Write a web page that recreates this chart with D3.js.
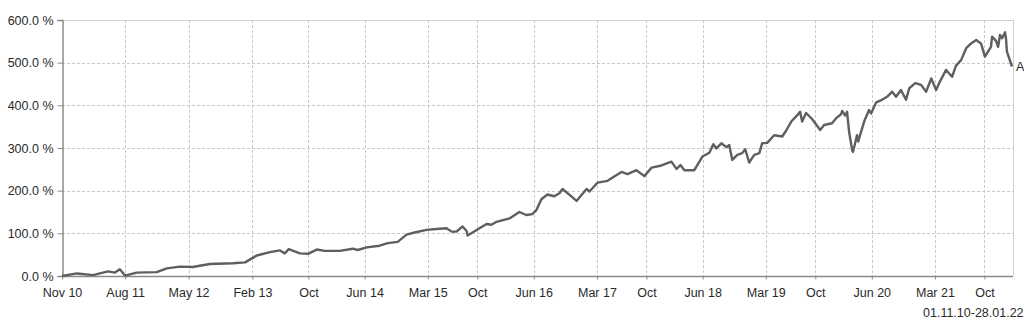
<!DOCTYPE html>
<html><head><meta charset="utf-8">
<script src="https://cdn.jsdelivr.net/npm/d3@7"></script>
<style>
html,body{margin:0;padding:0;background:#fff;}
svg{display:block;font-family:"Liberation Sans",Arial,sans-serif;}
</style></head>
<body>
<svg id="chart" width="1024" height="321"></svg>
<script>
const dates = ["2010-11-01","2011-01-05","2011-03-15","2011-05-19","2011-06-18","2011-07-09","2011-07-31","2011-09-20","2011-12-15","2012-01-28","2012-03-24","2012-05-19","2012-08-01","2012-11-09","2012-12-31","2013-02-20","2013-04-18","2013-05-31","2013-06-21","2013-07-08","2013-08-25","2013-09-29","2013-11-06","2013-12-11","2014-02-13","2014-04-11","2014-05-02","2014-06-10","2014-08-05","2014-09-09","2014-10-22","2014-11-29","2015-01-03","2015-02-24","2015-04-08","2015-05-21","2015-06-12","2015-07-03","2015-07-29","2015-08-15","2015-08-20","2015-09-28","2015-11-10","2015-12-01","2015-12-23","2016-02-17","2016-03-31","2016-04-30","2016-05-26","2016-06-13","2016-07-04","2016-07-30","2016-08-29","2016-09-20","2016-10-03","2016-11-03","2016-12-03","2017-01-15","2017-01-28","2017-03-04","2017-04-16","2017-06-15","2017-07-11","2017-08-19","2017-09-22","2017-10-23","2017-12-05","2018-01-17","2018-02-08","2018-02-25","2018-03-14","2018-04-26","2018-05-31","2018-06-30","2018-07-17","2018-07-30","2018-08-21","2018-09-11","2018-09-24","2018-10-07","2018-10-29","2018-11-19","2018-12-02","2018-12-19","2019-01-10","2019-02-01","2019-02-13","2019-03-07","2019-04-06","2019-05-11","2019-05-28","2019-06-19","2019-07-15","2019-07-27","2019-08-05","2019-08-22","2019-09-17","2019-10-22","2019-11-08","2019-12-12","2019-12-30","2020-01-20","2020-01-25","2020-02-07","2020-02-15","2020-02-24","2020-03-08","2020-03-12","2020-03-29","2020-04-03","2020-04-29","2020-05-20","2020-05-29","2020-06-20","2020-07-15","2020-08-06","2020-08-28","2020-09-14","2020-10-05","2020-10-27","2020-11-10","2020-12-06","2020-12-31","2021-01-22","2021-02-13","2021-03-06","2021-03-19","2021-04-18","2021-05-14","2021-05-31","2021-06-22","2021-07-14","2021-08-04","2021-08-26","2021-09-16","2021-10-03","2021-10-29","2021-11-03","2021-11-20","2021-11-29","2021-12-07","2021-12-16","2021-12-29","2022-01-02","2022-01-06","2022-01-28"];
const values = [0,6,2,11,8,16,1,8,9,18,22,21,28,30,32,48,56,60,53,63,53,52,62,59,59,64,61,67,71,77,80,97,102,108,110,112,104,104,116,106,95,108,122,120,127,135,150,143,145,155,180,191,187,194,204,190,176,204,198,219,223,244,239,248,234,254,259,268,251,260,248,248,280,289,309,299,311,302,307,272,284,288,297,266,284,288,311,312,330,327,341,362,377,385,362,382,368,342,354,358,370,379,387,376,385,338,295,291,330,315,362,389,381,407,413,420,432,420,436,413,440,452,448,432,463,436,452,483,467,493,506,534,545,553,545,514,537,561,551,537,565,557,571,557,526,491];
const yTicks = [0,100,200,300,400,500,600];
const xTickDates = ["2010-11-01","2011-08-01","2012-05-01","2013-02-01","2013-10-01","2014-06-01","2015-03-01","2015-10-01","2016-06-01","2017-03-01","2017-10-01","2018-06-01","2019-03-01","2019-10-01","2020-06-01","2021-03-01","2021-10-01"];
const xTickLabels = ["Nov 10","Aug 11","May 12","Feb 13","Oct","Jun 14","Mar 15","Oct","Jun 16","Mar 17","Oct","Jun 18","Mar 19","Oct","Jun 20","Mar 21","Oct"];
const seriesLabel = "A";
const rangeLabel = "01.11.10-28.01.22";

const parse = d3.utcParse("%Y-%m-%d");
const data = dates.map((d,i)=>({date:parse(d), v:values[i]}));
const L=62, R=1012, T=20, B=276;
const FS = 12.5;
const svg = d3.select("#chart");
const x = d3.scaleUtc().domain([parse("2010-11-01"), parse("2022-01-28")]).range([L,R]);
const y = d3.scaleLinear().domain([0,600]).range([B,T]);

// border top/right
svg.append("line").attr("x1",L).attr("x2",R+1).attr("y1",T+0.5).attr("y2",T+0.5).attr("stroke","#d0d0d0");
svg.append("line").attr("x1",R+1.5).attr("x2",R+1.5).attr("y1",T).attr("y2",B).attr("stroke","#d0d0d0");

// grid
const grid = svg.append("g");
grid.selectAll("line.h").data(yTicks.filter(t=>t>0 && t<600)).join("line")
  .attr("x1",L).attr("x2",R+1).attr("y1",d=>Math.round(y(d))+0.5).attr("y2",d=>Math.round(y(d))+0.5)
  .attr("stroke","#c8c8c8").attr("stroke-dasharray","3,2");
grid.selectAll("line.v").data(xTickDates.slice(1)).join("line")
  .attr("x1",d=>Math.round(x(parse(d)))+0.5).attr("x2",d=>Math.round(x(parse(d)))+0.5)
  .attr("y1",T).attr("y2",B).attr("stroke","#c8c8c8").attr("stroke-dasharray","3,2");

// y axis
const yAxis = d3.axisLeft(y).tickValues(yTicks).tickFormat(d=>d3.format(".1f")(d)+" %").tickSize(5).tickPadding(4);
const gy = svg.append("g").attr("transform",`translate(${L+0.5},0)`).call(yAxis);
gy.select(".domain").attr("stroke","#8a8a8a").attr("stroke-width",1.5);
gy.selectAll(".tick line").attr("stroke","#8a8a8a");
gy.selectAll(".tick text").attr("fill","#2a2a2a").attr("font-size",FS).attr("font-family","Liberation Sans, Arial, sans-serif");

// x axis
const xAxis = d3.axisBottom(x).tickValues(xTickDates.map(parse)).tickFormat((d,i)=>xTickLabels[i]).tickSize(3).tickPadding(9);
const gx = svg.append("g").attr("transform",`translate(0,${B+0.5})`).call(xAxis);
gx.select(".domain").attr("stroke","#8a8a8a").attr("stroke-width",1.5).attr("d",`M${L},0H${R+1}`);
gx.selectAll(".tick line").attr("stroke","#8a8a8a");
gx.selectAll(".tick text").attr("fill","#2a2a2a").attr("font-size",FS).attr("font-family","Liberation Sans, Arial, sans-serif");

// line
const line = d3.line().x(d=>x(d.date)).y(d=>y(d.v));
svg.append("path").datum(data).attr("d",line).attr("fill","none")
  .attr("stroke","#5f5f5f").attr("stroke-width",2.4).attr("stroke-linejoin","round");

const last = data[data.length-1];
svg.append("text").attr("x",x(last.date)+4).attr("y",y(last.v)+4).text(seriesLabel)
  .attr("font-size",FS).attr("fill","#2a2a2a");

svg.append("text").attr("x",923).attr("y",317).text(rangeLabel).attr("font-size",FS).attr("fill","#2a2a2a");
</script>
</body></html>
